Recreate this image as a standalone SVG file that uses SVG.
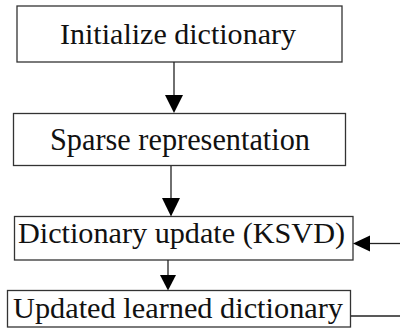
<svg xmlns="http://www.w3.org/2000/svg" width="400" height="331" viewBox="0 0 400 331">
<style>
.box{fill:#fff;stroke:#333;stroke-width:1.3}
.t{font-size:30px;fill:#111}
.ln{stroke:#222;stroke-width:1.3;fill:none}
.ah{fill:#000}
</style>
<rect width="400" height="331" fill="#fff"/>
<g id="n1"><rect class="box" x="17" y="6" width="325" height="56"/><text class="t" font-family="Liberation Serif, serif" x="60" y="44" textLength="236" lengthAdjust="spacingAndGlyphs">Initialize dictionary</text></g>
<g id="n2"><rect class="box" x="13.5" y="113.5" width="332" height="52"/><text class="t" font-family="Liberation Serif, serif" x="50" y="150" font-size="31" style="font-size:31px" textLength="260" lengthAdjust="spacingAndGlyphs">Sparse representation</text></g>
<g id="n3"><rect class="box" x="14.5" y="216.5" width="338.5" height="43.5"/><text class="t" font-family="Liberation Serif, serif" x="18" y="243" textLength="327" lengthAdjust="spacingAndGlyphs">Dictionary update (KSVD)</text></g>
<g id="n4"><rect class="box" x="7.5" y="290.5" width="343" height="36.5"/><text class="t" font-family="Liberation Serif, serif" x="13" y="318" textLength="330" lengthAdjust="spacingAndGlyphs">Updated learned dictionary</text></g>
<g id="connectors">
<line class="ln" x1="174" y1="62" x2="174" y2="96"/><polygon class="ah" points="165,95 183,95 174,113"/>
<line class="ln" x1="171" y1="166" x2="171" y2="199"/><polygon class="ah" points="162,198 180,198 171,216.5"/>
<line class="ln" x1="168" y1="260" x2="168" y2="276"/><polygon class="ah" points="160,275 176,275 168,290.5"/>
<line class="ln" x1="351" y1="316" x2="400" y2="316"/>
<line class="ln" x1="369" y1="243.5" x2="400" y2="243.5"/><polygon class="ah" points="353,243.5 370,235.5 370,251.5"/>
</g>
</svg>
